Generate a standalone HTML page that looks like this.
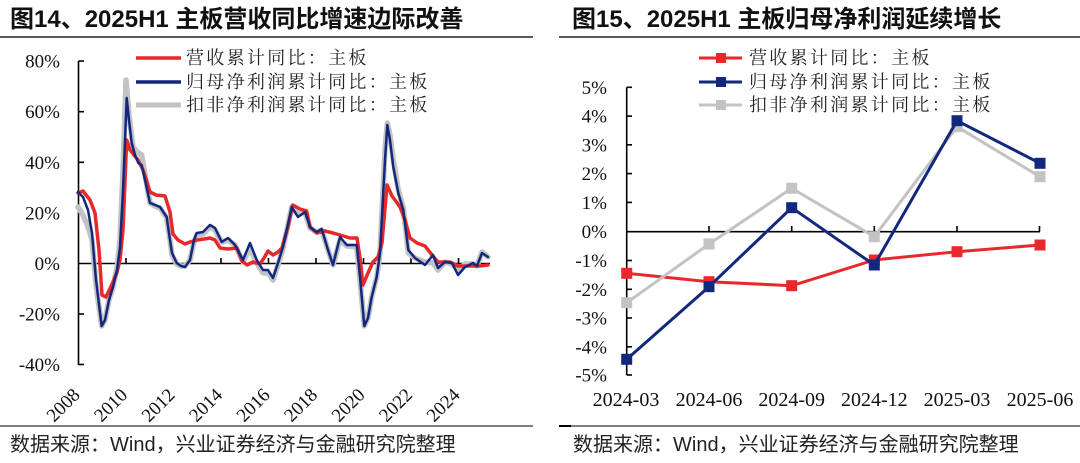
<!DOCTYPE html>
<html><head><meta charset="utf-8">
<style>
html,body{margin:0;padding:0;background:#fff;}
svg{display:block;}
.t{font-family:"Liberation Sans","Noto Sans CJK SC",sans-serif;font-weight:bold;font-size:24px;fill:#111;}
.lg{font-family:"Liberation Serif","Noto Serif CJK SC",serif;font-size:18px;letter-spacing:2.3px;fill:#222;}
.ax{font-family:"Liberation Serif","Noto Serif CJK SC",serif;font-size:19px;fill:#111;}
.ft{font-family:"Liberation Sans","Noto Sans CJK SC",sans-serif;font-size:20px;fill:#222;}
</style></head><body>
<svg width="1080" height="463" viewBox="0 0 1080 463" xmlns="http://www.w3.org/2000/svg">
<!-- Titles -->
<text class="t" x="10" y="27">图14、2025H1 主板营收同比增速边际改善</text>
<text class="t" x="572" y="27">图15、2025H1 主板归母净利润延续增长</text>
<line x1="0" y1="37" x2="533" y2="37" stroke="#222" stroke-width="1.5"/>
<line x1="559" y1="37" x2="1080" y2="37" stroke="#222" stroke-width="1.5"/>

<!-- ========== LEFT CHART ========== -->
<g stroke="#000" stroke-width="1.6" fill="none">
  <line x1="78.5" y1="61" x2="78.5" y2="365"/>
  <line x1="78.5" y1="61" x2="84" y2="61"/>
  <line x1="78.5" y1="111.7" x2="84" y2="111.7"/>
  <line x1="78.5" y1="162.3" x2="84" y2="162.3"/>
  <line x1="78.5" y1="212.9" x2="84" y2="212.9"/>
  <line x1="78.5" y1="314" x2="84" y2="314"/>
  <line x1="78.5" y1="364.5" x2="84" y2="364.5"/>
  <line x1="78.5" y1="263.5" x2="490" y2="263.5"/>
  <line x1="126" y1="263.5" x2="126" y2="258"/>
  <line x1="173.5" y1="263.5" x2="173.5" y2="258"/>
  <line x1="221" y1="263.5" x2="221" y2="258"/>
  <line x1="268.5" y1="263.5" x2="268.5" y2="258"/>
  <line x1="316" y1="263.5" x2="316" y2="258"/>
  <line x1="363.5" y1="263.5" x2="363.5" y2="258"/>
  <line x1="411" y1="263.5" x2="411" y2="258"/>
  <line x1="458.5" y1="263.5" x2="458.5" y2="258"/>
</g>
<g class="ax" text-anchor="end">
  <text x="60" y="67.5">80%</text>
  <text x="60" y="118.2">60%</text>
  <text x="60" y="168.8">40%</text>
  <text x="60" y="219.4">20%</text>
  <text x="60" y="270">0%</text>
  <text x="60" y="320.5">-20%</text>
  <text x="60" y="371">-40%</text>
</g>
<g class="ax" text-anchor="end">
  <text transform="translate(81,396) rotate(-45)">2008</text>
  <text transform="translate(128.5,396) rotate(-45)">2010</text>
  <text transform="translate(176,396) rotate(-45)">2012</text>
  <text transform="translate(223.5,396) rotate(-45)">2014</text>
  <text transform="translate(271,396) rotate(-45)">2016</text>
  <text transform="translate(318.5,396) rotate(-45)">2018</text>
  <text transform="translate(366,396) rotate(-45)">2020</text>
  <text transform="translate(413.5,396) rotate(-45)">2022</text>
  <text transform="translate(461,396) rotate(-45)">2024</text>
</g>

<!-- series: gray -->
<polyline fill="none" stroke="#c3c3c3" stroke-width="5.5" stroke-linejoin="round" stroke-linecap="round" points="78,207 83,215 88,227 92,240 96,285 101.7,326 105,320 109,300 113,287 117,268 120,240 123,170 126,80 129,115 133,147 137,152 141.7,155 145,175 150,203 155,206 160,208 166.7,218 170,240 172,255 176.7,264 181,266 185,266 190,260 194,242 196.7,235 203,234 210,227 215,230 221.7,242 228,240 235,245 243,262 250,248 256.7,263 263,273 268,273 273,280 278,265 283,248 291.7,207 298,214 305,212 310,228 316.7,232 321.7,230 328,250 333,265 340,240 346.7,246 356.7,247 360,280 364.3,326 368,318 371.7,297 376.7,277 380,253 385,150 387.3,123 390,135 393.3,160 398.3,190 403.3,208 408.3,253 415,258 425,262 433,263 438,270 445,262 452,264 458,270 465,264 473,264 477,266 482,252 488,257"/>
<!-- series: red -->
<polyline fill="none" stroke="#e8282b" stroke-width="3.5" stroke-linejoin="round" stroke-linecap="round" points="78,193 83,191 90,200 95,213 99,250 102,295 106,297 113,282 117,272 120,260 123,230 126.7,140 130,150 134,155 138,160 143,170 147,182 150,192 156,195 165,196 170,212 173,234 178,240 185,244 190,242 197,240 204,239 210,238 215,240 220,248 228,249 237,248 242,261 247,265 253,262 260,264 264,258 268,251 273,255 278,252 282,248 288,227 292.7,205 300,209 306.7,211 310,227 316.7,233 325,231 333,233 340,235 350,238 357,238 360,258 363,285 368,273 373,262 378,257 382,243 387,185 392,196 395,200 400,207 405,220 410,238 417,243 425,246 432,255 438,262 450,262 458,266 470,266 480,266 488,265"/>
<!-- series: blue -->
<polyline fill="none" stroke="#12287f" stroke-width="2.5" stroke-linejoin="round" stroke-linecap="round" points="78,192 83,197 88,210 92,233 96,280 101.7,326 105,320 109,300 113,287 117,270 120,247 123,190 126.7,98 129,120 131.7,143 135,155 138.3,163 141.7,165 145,180 150,203 155,205 160,207 166.7,217 170,240 172,253 176.7,263 181,266 185,267 190,260 194,240 196.7,233 203,232 210,225 215,228 221.7,242 228,238 235,245 243,260 250,243 256.7,260 263,270 268,270 273,278 278,263 283,247 291.7,207 298,217 305,212 310,227 316.7,232 321.7,229 328,250 333,265 340,237 346.7,245 356.7,245 360,277 364.3,326 368,318 371.7,297 376.7,277 380,253 385,160 387.3,125 390,140 393.3,167 398.3,193 403.3,210 408.3,250 415,258 425,265 433,255 438,268 445,262 452,263 458,275 465,267 473,263 477,266 482,253 488,257"/>

<!-- left legend -->
<line x1="136" y1="58" x2="181" y2="58" stroke="#e8282b" stroke-width="3.5"/>
<line x1="136" y1="82" x2="181" y2="82" stroke="#12287f" stroke-width="3.5"/>
<line x1="136" y1="105" x2="181" y2="105" stroke="#c3c3c3" stroke-width="5"/>
<text class="lg" x="186" y="64">营收累计同比：主板</text>
<text class="lg" x="186" y="88">归母净利润累计同比：主板</text>
<text class="lg" x="186" y="111">扣非净利润累计同比：主板</text>

<!-- ========== RIGHT CHART ========== -->
<g stroke="#000" stroke-width="1.6" fill="none">
  <line x1="626.7" y1="87.3" x2="626.7" y2="375"/>
  <line x1="626.7" y1="87.3" x2="632" y2="87.3"/>
  <line x1="626.7" y1="116.1" x2="632" y2="116.1"/>
  <line x1="626.7" y1="144.8" x2="632" y2="144.8"/>
  <line x1="626.7" y1="173.6" x2="632" y2="173.6"/>
  <line x1="626.7" y1="202.4" x2="632" y2="202.4"/>
  <line x1="626.7" y1="260.5" x2="632" y2="260.5"/>
  <line x1="626.7" y1="289.3" x2="632" y2="289.3"/>
  <line x1="626.7" y1="318" x2="632" y2="318"/>
  <line x1="626.7" y1="346.8" x2="632" y2="346.8"/>
  <line x1="626.7" y1="375" x2="632" y2="375"/>
  <line x1="626.7" y1="231.7" x2="1040" y2="231.7"/>
  <line x1="709" y1="231.7" x2="709" y2="226"/>
  <line x1="791.7" y1="231.7" x2="791.7" y2="226"/>
  <line x1="874.3" y1="231.7" x2="874.3" y2="226"/>
  <line x1="957" y1="231.7" x2="957" y2="226"/>
  <line x1="1039.5" y1="231.7" x2="1039.5" y2="226"/>
</g>
<g class="ax" text-anchor="end">
  <text x="607" y="93.8">5%</text>
  <text x="607" y="122.6">4%</text>
  <text x="607" y="151.3">3%</text>
  <text x="607" y="180.1">2%</text>
  <text x="607" y="208.9">1%</text>
  <text x="607" y="238.2">0%</text>
  <text x="607" y="267">-1%</text>
  <text x="607" y="295.8">-2%</text>
  <text x="607" y="324.5">-3%</text>
  <text x="607" y="353.3">-4%</text>
  <text x="607" y="381.5">-5%</text>
</g>
<g class="ax" text-anchor="middle" style="font-size:20px">
  <text x="626" y="406">2024-03</text>
  <text x="709" y="406">2024-06</text>
  <text x="791.7" y="406">2024-09</text>
  <text x="874.3" y="406">2024-12</text>
  <text x="957" y="406">2025-03</text>
  <text x="1040" y="406">2025-06</text>
</g>

<!-- red -->
<polyline fill="none" stroke="#e8282b" stroke-width="3" stroke-linejoin="round" points="626.7,273.3 709,281.7 791.7,285.7 874.3,260 957,251.7 1040,245"/>
<g fill="#e8282b">
  <rect x="621.2" y="267.8" width="11" height="11"/>
  <rect x="703.5" y="276.2" width="11" height="11"/>
  <rect x="786.2" y="280.2" width="11" height="11"/>
  <rect x="868.8" y="254.5" width="11" height="11"/>
  <rect x="951.5" y="246.2" width="11" height="11"/>
  <rect x="1034.5" y="239.5" width="11" height="11"/>
</g>
<!-- gray -->
<polyline fill="none" stroke="#c3c3c3" stroke-width="3" stroke-linejoin="round" points="626.7,302.7 709,244 791.7,188.3 874.3,236.7 957,126.7 1040,176.7"/>
<g fill="#c3c3c3">
  <rect x="621.2" y="297.2" width="11" height="11"/>
  <rect x="703.5" y="238.5" width="11" height="11"/>
  <rect x="786.2" y="182.8" width="11" height="11"/>
  <rect x="868.8" y="231.2" width="11" height="11"/>
  <rect x="951.5" y="121.2" width="11" height="11"/>
  <rect x="1034.5" y="171.2" width="11" height="11"/>
</g>
<!-- blue -->
<polyline fill="none" stroke="#12287f" stroke-width="3" stroke-linejoin="round" points="626.7,359.3 709,286.7 791.7,207.7 874.3,265 957,120.7 1040,163.3"/>
<g fill="#12287f">
  <rect x="621.2" y="353.8" width="11" height="11"/>
  <rect x="703.5" y="281.2" width="11" height="11"/>
  <rect x="786.2" y="202.2" width="11" height="11"/>
  <rect x="868.8" y="259.5" width="11" height="11"/>
  <rect x="951.5" y="115.2" width="11" height="11"/>
  <rect x="1034.5" y="157.8" width="11" height="11"/>
</g>

<!-- right legend -->
<line x1="699" y1="58" x2="742" y2="58" stroke="#e8282b" stroke-width="3"/>
<rect x="716" y="53" width="10" height="10" fill="#e8282b"/>
<line x1="699" y1="82" x2="742" y2="82" stroke="#12287f" stroke-width="3"/>
<rect x="716" y="77" width="10" height="10" fill="#12287f"/>
<line x1="699" y1="105" x2="742" y2="105" stroke="#c3c3c3" stroke-width="3"/>
<rect x="716" y="100" width="10" height="10" fill="#c3c3c3"/>
<text class="lg" x="749" y="64">营收累计同比：主板</text>
<text class="lg" x="749" y="88">归母净利润累计同比：主板</text>
<text class="lg" x="749" y="111">扣非净利润累计同比：主板</text>

<!-- footers -->
<line x1="0" y1="426" x2="533" y2="426" stroke="#333" stroke-width="1.2"/>
<line x1="559" y1="426" x2="1080" y2="426" stroke="#333" stroke-width="1.2"/>
<line x1="559" y1="426" x2="571" y2="426" stroke="#000" stroke-width="2"/>
<text class="ft" x="10" y="451">数据来源：Wind，兴业证券经济与金融研究院整理</text>
<text class="ft" x="573" y="451">数据来源：Wind，兴业证券经济与金融研究院整理</text>
</svg>
</body></html>
